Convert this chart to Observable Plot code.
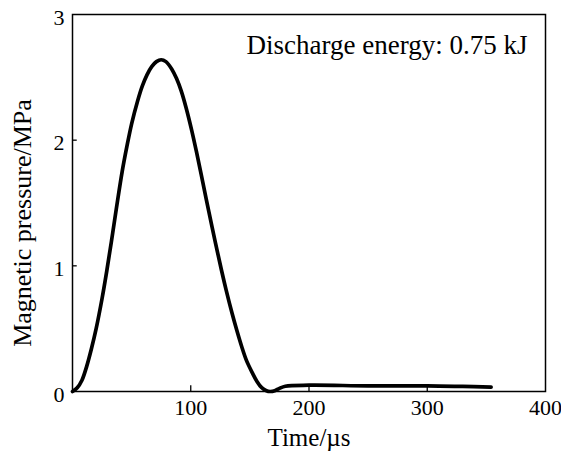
<!DOCTYPE html>
<html>
<head>
<meta charset="utf-8">
<script src="https://cdn.jsdelivr.net/npm/d3@7"></script>
<script src="https://cdn.jsdelivr.net/npm/@observablehq/plot@0.6"></script>
<style>
  html, body { margin: 0; padding: 0; background: #fff; }
  svg { display: block; }
</style>
</head>
<body>
<div id="chart"></div>
<script>
// Time (µs)
const time = [0, 4, 8, 12, 16, 20, 25, 29, 33, 37, 42, 46, 50, 55, 59, 63, 67, 71, 75, 79, 84, 88, 92, 96, 101, 105, 109, 113, 118, 122, 126, 130, 135, 139, 143, 147, 152, 156, 160, 164, 167, 171, 175, 180, 200, 250, 300, 330, 354];
// Magnetic pressure (MPa)
const pressure = [0, 0.03, 0.09, 0.2, 0.34, 0.5, 0.74, 0.96, 1.2, 1.45, 1.75, 1.95, 2.13, 2.31, 2.43, 2.52, 2.585, 2.625, 2.64, 2.625, 2.565, 2.49, 2.39, 2.26, 2.07, 1.9, 1.72, 1.535, 1.31, 1.135, 0.965, 0.805, 0.62, 0.485, 0.36, 0.25, 0.15, 0.08, 0.03, 0.006, 0, 0.006, 0.025, 0.042, 0.05, 0.045, 0.045, 0.04, 0.035];

const xTicks = [100, 200, 300, 400];
const yTicks = [0, 1, 2, 3];
const xLabel = "Time/µs";
const yLabel = "Magnetic pressure/MPa";
const note = "Discharge energy: 0.75 kJ";

const data = time.map((t, i) => ({t, p: pressure[i]}));

const font = "Liberation Serif, Times New Roman, serif";

const chart = Plot.plot({
  width: 561,
  height: 453,
  marginLeft: 72,
  marginRight: 16,
  marginTop: 14,
  marginBottom: 62,
  style: {fontFamily: font, background: "#fff", color: "#000"},
  x: {domain: [0, 400]},
  y: {domain: [0, 3]},
  marks: [
    Plot.frame({stroke: "#000", strokeWidth: 1.5}),
    Plot.ruleX(xTicks.slice(0, 3), {y1: 0, y2: 0.045, stroke: "#000", strokeWidth: 1.3}),
    Plot.ruleY(yTicks.slice(1, 3), {x1: 0, x2: 4, stroke: "#000", strokeWidth: 1.3}),
    Plot.axisX({ticks: xTicks, tickSize: 0, tickPadding: 8, fontSize: 22, label: null, tickFormat: d3.format("d")}),
    Plot.axisY({ticks: yTicks, tickSize: 0, tickPadding: 8, fontSize: 22, label: null, dy: 3, tickFormat: d3.format("d")}),
    Plot.line(data, {x: "t", y: "p", stroke: "#000", strokeWidth: 3.7, curve: "catmull-rom"}),
    Plot.text([xLabel], {frameAnchor: "bottom", dy: 46, fontSize: 25, lineAnchor: "middle"}),
    Plot.text([yLabel], {frameAnchor: "left", textAnchor: "middle", rotate: -90, dx: -50, dy: 20, fontSize: 26, lineAnchor: "middle"}),
    Plot.text([note], {frameAnchor: "top-right", textAnchor: "end", dx: -18, dy: 31, fontSize: 27, lineAnchor: "middle"})
  ]
});
document.getElementById("chart").appendChild(chart);
</script>
</body>
</html>
